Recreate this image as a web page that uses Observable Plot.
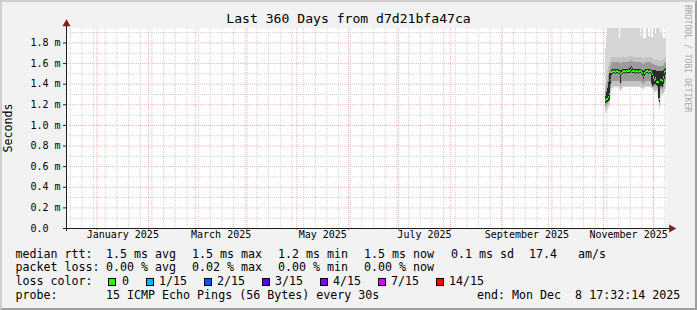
<!DOCTYPE html>
<html><head><meta charset="utf-8">
<script src="https://cdn.jsdelivr.net/npm/d3@7"></script>
<script src="https://cdn.jsdelivr.net/npm/@observablehq/plot@0.6"></script>
<style>
html,body{margin:0;padding:0;background:#f2f2f2;}
#wrap{position:relative;width:697px;height:310px;background:#f2f2f2;overflow:hidden;font-family:"DejaVu Sans Mono",monospace;color:#000;}
#wrap svg{position:absolute;left:0;top:0;}
.t{position:absolute;white-space:pre;line-height:1;}
.leg{font-size:11.65px;}
.box{position:absolute;width:6px;height:6px;border:1px solid #000;}
#border{position:absolute;left:0;top:0;width:697px;height:310px;box-sizing:border-box;border-top:2px solid #cfcfcf;border-left:2px solid #cfcfcf;border-right:2px solid #9e9e9e;border-bottom:2px solid #9e9e9e;pointer-events:none;}
</style></head>
<body><div id="wrap"></div>
<script>
// ---------- data ----------
const titleText = "Last 360 Days from d7d21bfa47ca";
const yLabelText = "Seconds";
const watermark = "RRDTOOL / TOBI OETIKER";
const endTime = "2025-12-08T17:32:14Z";
const spanDays = 360;
const firstSample = "2025-11-02T03:08:14Z";
const sampleHours = 14.4;

const yTicks = [0, 0.2, 0.4, 0.6, 0.8, 1.0, 1.2, 1.4, 1.6, 1.8];
const yTickLabels = ["0.0", "0.2 m", "0.4 m", "0.6 m", "0.8 m", "1.0 m", "1.2 m", "1.4 m", "1.6 m", "1.8 m"];
const yMinor = [0.1, 0.3, 0.5, 0.7, 0.9, 1.1, 1.3, 1.5, 1.7, 1.9];
const xTickMonths = ["2025-01-01", "2025-03-01", "2025-05-01", "2025-07-01", "2025-09-01", "2025-11-01"];
const xTickLabels = ["January 2025", "March 2025", "May 2025", "July 2025", "September 2025", "November 2025"];

// median rtt (ms), one value per consolidated sample
const median = [
  1.24, 1.25, 1.25, 1.27, 1.30, 1.435, 1.51, 1.515, 1.52, 1.52,
  1.515, 1.52, 1.52, 1.515, 1.51, 1.49, 1.505, 1.515, 1.52, 1.52,
  1.515, 1.52, 1.52, 1.52, 1.525, 1.53, 1.55, 1.525, 1.52, 1.52,
  1.515, 1.52, 1.52, 1.515, 1.52, 1.52, 1.51, 1.50, 1.47, 1.50,
  1.515, 1.52, 1.52, 1.515, 1.52, 1.52, 1.51, 1.49, 1.46, 1.44,
  1.45, 1.42, 1.42, 1.42, 1.255, 1.44, 1.44, 1.43, 1.46, 1.515,
  1.52];
// lost pings out of 15
const loss = [
  0, 0, 0, 0, 0, 1, 0, 0, 0, 0,
  0, 0, 0, 0, 0, 0, 0, 0, 0, 0,
  0, 0, 0, 0, 0, 0, 1, 0, 0, 0,
  0, 0, 0, 0, 0, 0, 0, 0, 1, 0,
  0, 0, 0, 0, 0, 0, 0, 0, 0, 0,
  0, 0, 0, 0, 0, 0, 0, 0, 0, 0,
  0];
// smoke: outer range (lightest)
const smokeMin = [
  1.12, 1.13, 1.14, 1.16, 1.19, 1.28, 1.34, 1.36, 1.36, 1.37,
  1.37, 1.37, 1.37, 1.36, 1.35, 1.33, 1.34, 1.36, 1.37, 1.37,
  1.37, 1.37, 1.37, 1.37, 1.37, 1.37, 1.37, 1.37, 1.37, 1.37,
  1.37, 1.37, 1.37, 1.37, 1.37, 1.36, 1.36, 1.36, 1.35, 1.36,
  1.37, 1.37, 1.37, 1.37, 1.37, 1.37, 1.36, 1.35, 1.34, 1.32,
  1.32, 1.33, 1.30, 1.22, 1.14, 1.26, 1.30, 1.28, 1.30, 1.33,
  1.36];
const smokeMax = [
  1.75, 1.86, 1.95, 2, 2, 2, 2, 2, 2, 2,
  2, 2, 2, 2, 1.84, 2, 2, 2, 2, 2,
  2, 2, 2, 2, 2, 2, 2, 2, 2, 2,
  2, 2, 2, 2, 2, 1.86, 2, 2, 1.84, 1.84,
  1.84, 2, 2, 1.86, 1.86, 2, 1.85, 1.85, 2, 2,
  1.89, 2, 2, 2, 2, 1.88, 2, 1.86, 1.84, 1.84,
  1.86];
// smoke: second band
const bandA1 = [
  1.15, 1.16, 1.17, 1.19, 1.22, 1.31, 1.36, 1.38, 1.38, 1.38,
  1.38, 1.38, 1.38, 1.38, 1.37, 1.35, 1.36, 1.38, 1.38, 1.38,
  1.38, 1.38, 1.38, 1.38, 1.38, 1.38, 1.38, 1.38, 1.38, 1.38,
  1.38, 1.38, 1.38, 1.38, 1.38, 1.38, 1.38, 1.37, 1.37, 1.37,
  1.38, 1.38, 1.38, 1.38, 1.38, 1.38, 1.36, 1.35, 1.34, 1.33,
  1.34, 1.34, 1.32, 1.25, 1.18, 1.29, 1.32, 1.31, 1.32, 1.35,
  1.37];
const bandA2 = [
  1.40, 1.46, 1.52, 1.58, 1.62, 1.65, 1.66, 1.66, 1.66, 1.66,
  1.66, 1.66, 1.66, 1.66, 1.65, 1.65, 1.66, 1.66, 1.66, 1.66,
  1.66, 1.66, 1.66, 1.67, 1.67, 1.67, 1.67, 1.67, 1.66, 1.66,
  1.66, 1.66, 1.66, 1.66, 1.66, 1.66, 1.66, 1.65, 1.65, 1.65,
  1.66, 1.66, 1.66, 1.66, 1.66, 1.66, 1.65, 1.65, 1.64, 1.64,
  1.64, 1.64, 1.63, 1.63, 1.62, 1.63, 1.63, 1.63, 1.64, 1.65,
  1.66];
// smoke: third band
const bandB1 = [
  1.18, 1.19, 1.20, 1.22, 1.24, 1.36, 1.41, 1.43, 1.43, 1.43,
  1.43, 1.43, 1.43, 1.43, 1.42, 1.39, 1.41, 1.43, 1.43, 1.43,
  1.43, 1.43, 1.43, 1.43, 1.43, 1.43, 1.43, 1.43, 1.43, 1.43,
  1.43, 1.43, 1.43, 1.43, 1.43, 1.43, 1.42, 1.41, 1.40, 1.41,
  1.43, 1.43, 1.43, 1.43, 1.43, 1.43, 1.39, 1.37, 1.37, 1.37,
  1.38, 1.37, 1.36, 1.24, 1.21, 1.35, 1.36, 1.35, 1.37, 1.41,
  1.43];
const bandB2 = [
  1.33, 1.38, 1.43, 1.48, 1.53, 1.57, 1.60, 1.61, 1.61, 1.61,
  1.61, 1.61, 1.61, 1.61, 1.60, 1.60, 1.60, 1.61, 1.61, 1.61,
  1.61, 1.61, 1.61, 1.61, 1.62, 1.62, 1.63, 1.62, 1.61, 1.61,
  1.61, 1.61, 1.61, 1.61, 1.61, 1.61, 1.60, 1.60, 1.59, 1.60,
  1.61, 1.61, 1.61, 1.61, 1.61, 1.61, 1.60, 1.59, 1.59, 1.58,
  1.58, 1.58, 1.57, 1.57, 1.57, 1.57, 1.57, 1.57, 1.58, 1.60,
  1.61];
// smoke: darkest core
const bandC1 = [
  1.21, 1.22, 1.22, 1.23, 1.24, 1.40, 1.48, 1.495, 1.50, 1.50,
  1.495, 1.50, 1.50, 1.495, 1.49, 1.41, 1.48, 1.495, 1.50, 1.50,
  1.495, 1.50, 1.50, 1.50, 1.505, 1.50, 1.52, 1.505, 1.50, 1.50,
  1.495, 1.50, 1.50, 1.495, 1.50, 1.50, 1.49, 1.47, 1.45, 1.47,
  1.495, 1.50, 1.50, 1.495, 1.50, 1.50, 1.41, 1.38, 1.39, 1.40,
  1.40, 1.39, 1.38, 1.26, 1.22, 1.38, 1.38, 1.37, 1.40, 1.45,
  1.49];
const bandC2 = [
  1.28, 1.32, 1.36, 1.42, 1.50, 1.50, 1.535, 1.54, 1.545, 1.545,
  1.54, 1.545, 1.545, 1.54, 1.535, 1.53, 1.53, 1.54, 1.545, 1.545,
  1.54, 1.545, 1.545, 1.545, 1.55, 1.56, 1.57, 1.55, 1.545, 1.545,
  1.54, 1.545, 1.545, 1.54, 1.545, 1.545, 1.535, 1.53, 1.52, 1.53,
  1.54, 1.545, 1.545, 1.54, 1.545, 1.545, 1.535, 1.53, 1.53, 1.53,
  1.53, 1.52, 1.52, 1.52, 1.52, 1.52, 1.52, 1.52, 1.53, 1.54,
  1.55];

const lossLevels = [0, 1, 2, 3, 4, 7, 14];
const lossLabels = ["0", "1/15", "2/15", "3/15", "4/15", "7/15", "14/15"];
const lossColors = ["#26ff00", "#00b8ff", "#0059ff", "#5e00ff", "#7e00ff", "#dd00ff", "#ff0000"];

const rttLabels = ["1.5 ms avg", "1.5 ms max", "1.2 ms min", "1.5 ms now", "0.1 ms sd", "17.4", "am/s"];
const lossStats = ["0.00 % avg", "0.02 % max", "0.00 % min", "0.00 % now"];
const probeText = "15 ICMP Echo Pings (56 Bytes) every 30s";
const endText = "end: Mon Dec  8 17:32:14 2025";

// ---------- build ----------
const tEnd = new Date(endTime);
const t0 = new Date(+tEnd - spanDays * 864e5);
const step = sampleHours * 36e5;
const t1 = new Date(firstSample);
const rows = median.map((m, i) => ({
  a: new Date(+t1 + i * step), b: new Date(+t1 + (i + 1) * step),
  med: m, loss: loss[i],
  min: smokeMin[i], max: smokeMax[i],
  a1: bandA1[i], a2: bandA2[i], b1: bandB1[i], b2: bandB2[i], c1: bandC1[i], c2: bandC2[i]
}));
function lossColor(l) {
  let k = 0;
  lossLevels.forEach((lv, j) => { if (l >= lv) k = j; });
  return lossColors[k];
}
const weeks = d3.utcMonday.range(t0, tEnd);
const months = d3.utcMonth.range(t0, tEnd);
const xLabelPos = xTickMonths.map(s => { const m = new Date(s + "T00:00:00Z"); return new Date((+m + +d3.utcMonth.offset(m, 1)) / 2); });
const yMax = 1.94;
const medHalf = 0.01;

const chart = Plot.plot({
  width: 697, height: 310,
  marginLeft: 66, marginRight: 31, marginTop: 28, marginBottom: 82,
  x: {type: "utc", domain: [t0, tEnd], axis: null},
  y: {domain: [0, yMax], axis: null},
  style: {background: "transparent", fontFamily: "DejaVu Sans Mono", fontSize: "10px", overflow: "visible"},
  marks: [
    Plot.frame({fill: "#ffffff", stroke: "none"}),
    Plot.ruleX(weeks, {stroke: "#d0d0d0", strokeDasharray: "1,1"}),
    Plot.ruleY(yMinor, {stroke: "#d0d0d0", strokeDasharray: "1,1"}),
    Plot.ruleX(months, {stroke: "#f0b2b2", strokeDasharray: "1,1"}),
    Plot.ruleY(yTicks.slice(1), {stroke: "#f0b2b2", strokeDasharray: "1,1"}),
    Plot.rect(rows, {x1: "a", x2: "b", y1: "min", y2: d => Math.min(d.max, yMax), fill: "#d6d6d6", shapeRendering: "crispEdges"}),
    Plot.rect(rows, {x1: "a", x2: "b", y1: "a1", y2: "a2", fill: "#c2c2c2", shapeRendering: "crispEdges"}),
    Plot.rect(rows, {x1: "a", x2: "b", y1: "b1", y2: "b2", fill: "#9a9a9a", shapeRendering: "crispEdges"}),
    Plot.rect(rows, {x1: "a", x2: "b", y1: "c1", y2: "c2", fill: "#2b2b2b", shapeRendering: "crispEdges"}),
    Plot.rect(rows, {x1: "a", x2: "b", y1: d => d.med - medHalf, y2: d => d.med + medHalf, fill: d => lossColor(d.loss), shapeRendering: "crispEdges"}),
    // axes
    Plot.ruleY(yTicks, {stroke: "#1f1f1f", insetLeft: -3, insetRight: 600}),
    Plot.ruleX(months, {stroke: "#d05050", insetTop: 200, insetBottom: -2}),
    Plot.ruleY([0], {stroke: "#1f1f1f", insetLeft: -3, insetRight: -4}),
    Plot.ruleX([t0], {stroke: "#1f1f1f", insetTop: -5, insetBottom: -3}),
    Plot.dot([{t: tEnd, v: 0}], {x: "t", y: "v", dx: 5, symbol: "triangle", rotate: 90, r: 3, fill: "#801f1f", stroke: "none"}),
    Plot.dot([{t: t0, v: yMax}], {x: "t", y: "v", dy: -4.5, symbol: "triangle", r: 3, fill: "#801f1f", stroke: "none"}),
    // tick labels
    Plot.text(yTicks, {y: d => d, text: (d, i) => yTickLabels[i], frameAnchor: "left", dx: -36, textAnchor: "start", fill: "#000", fontSize: 10}),
    Plot.text(xLabelPos, {x: d => d, text: (d, i) => xTickLabels[i], frameAnchor: "bottom", dy: 9, fill: "#000", fontSize: 10})
  ]
});

const wrap = document.getElementById("wrap");
wrap.appendChild(chart);

function addText(txt, left, top, cls, extra) {
  const el = document.createElement("div");
  el.className = "t " + (cls || "");
  el.textContent = txt;
  el.style.left = left + "px";
  el.style.top = top + "px";
  if (extra) Object.assign(el.style, extra);
  wrap.appendChild(el);
  return el;
}
// title
addText(titleText, 0, 12.2, "", {width: "697px", textAlign: "center", fontSize: "13.1px"});
// y title
addText(yLabelText, 9.3, 127.5, "leg", {transform: "translate(-50%,-50%) rotate(-90deg)"});
// watermark
addText(watermark, 684, 5, "", {writingMode: "vertical-rl", fontSize: "8.1px", color: "#a8a8a8"});

// legend
const lineTop = [248.6, 262.4, 276.3, 290.1];
const colX = [106, 192, 278, 364, 451, 529, 578];
addText("median rtt:", 15.5, lineTop[0], "leg");
rttLabels.forEach((s, i) => addText(s, colX[i], lineTop[0], "leg"));
addText("packet loss:", 15.5, lineTop[1], "leg");
lossStats.forEach((s, i) => addText(s, colX[i], lineTop[1], "leg"));
addText("loss color:", 15.5, lineTop[2], "leg");
const boxX = [108, 146, 203.5, 262, 320, 378, 436];
const boxLabelX = [122, 159, 217, 275, 333, 391, 449];
lossLabels.forEach((s, i) => {
  const b = document.createElement("div");
  b.className = "box";
  b.style.left = boxX[i] + "px";
  b.style.top = "278px";
  b.style.background = lossColors[i];
  wrap.appendChild(b);
  addText(s, boxLabelX[i], lineTop[2], "leg");
});
addText("probe:", 15.5, lineTop[3], "leg");
addText(probeText, colX[0], lineTop[3], "leg");
addText(endText, 477, lineTop[3], "leg");

const border = document.createElement("div");
border.id = "border";
wrap.appendChild(border);
</script>
</body></html>
